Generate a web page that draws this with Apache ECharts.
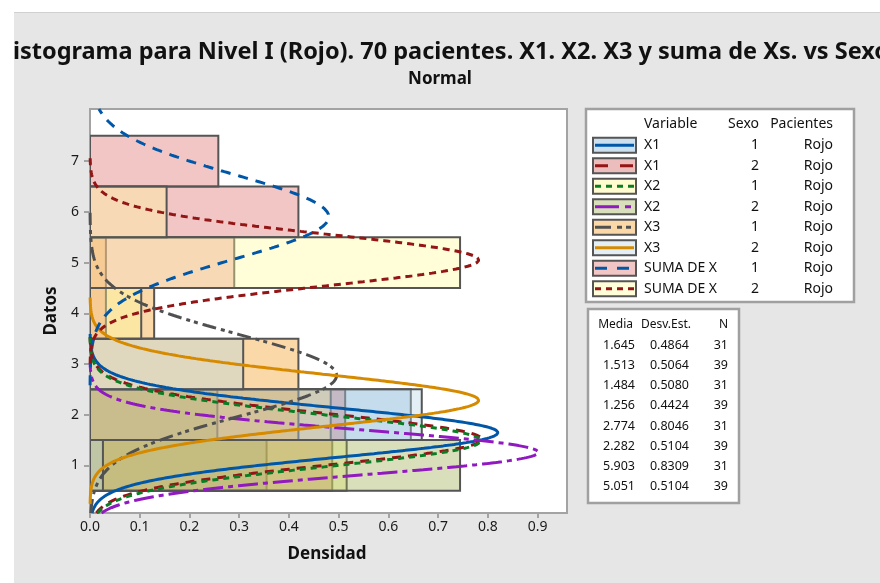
<!DOCTYPE html>
<html><head><meta charset="utf-8">
<script src="https://cdn.jsdelivr.net/npm/echarts@6/dist/echarts.min.js"></script>
<style>
html,body{margin:0;padding:0;background:#fff;width:880px;height:583px;overflow:hidden}
#chart{position:absolute;left:14px;top:12px;width:866px;height:571px;background:#e6e6e6;border-top:1px solid #d0d0d0;box-sizing:border-box}
</style></head><body><div id="chart"></div>
<script>
// ---- data ----
const variables = ['X1','X1','X2','X2','X3','X3','SUMA DE X','SUMA DE X'];
const sexo = [1,2,1,2,1,2,1,2];
const pacientes = ['Rojo','Rojo','Rojo','Rojo','Rojo','Rojo','Rojo','Rojo'];
const media = [1.645,1.513,1.484,1.256,2.774,2.282,5.903,5.051];
const desvEst = [0.4864,0.5064,0.5080,0.4424,0.8046,0.5104,0.8309,0.5104];
const nPac = [31,39,31,39,31,39,31,39];
const mediaTxt = ['1.645','1.513','1.484','1.256','2.774','2.282','5.903','5.051'];
const desvTxt = ['0.4864','0.5064','0.5080','0.4424','0.8046','0.5104','0.8309','0.5104'];
// histogram bins (centres) and densities, per group
const binsX1S1 = [1,2],       densX1S1 = [0.355,0.645];
const binsX1S2 = [1,2],       densX1S2 = [0.487,0.513];
const binsX2S1 = [1,2],       densX2S1 = [0.516,0.484];
const binsX2S2 = [1,2],       densX2S2 = [0.744,0.256];
const binsX3S1 = [2,3,4,5],   densX3S1 = [0.419,0.419,0.129,0.032];
const binsX3S2 = [1,2,3],     densX3S2 = [0.026,0.667,0.308];
const binsSumS1 = [4,5,6,7],  densSumS1 = [0.032,0.290,0.419,0.258];
const binsSumS2 = [4,5,6],    densSumS2 = [0.103,0.744,0.154];
const xTicks = [0,0.1,0.2,0.3,0.4,0.5,0.6,0.7,0.8,0.9];
const yTicks = [1,2,3,4,5,6,7];

// ---- styles ----
const swatch = ['#cde0f0','#ebbdbd','#fffdd0','#d8dfba','#fbd8a8','#e3eff5','#f3c6c6','#fffed9'];
const fills = ['rgba(123,173,215,0.38)','rgba(202,81,81,0.38)','rgba(255,250,131,0.38)','rgba(152,171,73,0.38)',
               'rgba(244,152,26,0.38)','rgba(181,213,229,0.38)','rgba(223,105,105,0.38)','rgba(255,252,155,0.38)'];
const lineColors = ['#0057a8','#931515','#0a7d24','#9019c0','#505050','#d68a00','#0057a8','#931515'];
const lineDash = ['solid',[9,7],[6,5],[20,5,5,5],[14,5,4,4,4,5],'solid',[10,8],[7,5]];
const legendDash = ['solid',[13,12],[6,5],[24,6,6,6],[16,6,5,4,5,4],'solid',[12,10],[6,5]];
const bins = [binsX1S1,binsX1S2,binsX2S1,binsX2S2,binsX3S1,binsX3S2,binsSumS1,binsSumS2];
const dens = [densX1S1,densX1S2,densX2S1,densX2S2,densX3S1,densX3S2,densSumS1,densSumS2];

const yMin = 0.06, yMax = 8.03, xMax = 0.959;
const FONT = '"Noto Sans", "DejaVu Sans", sans-serif';

// fitted normal density over mean +/- 4 sd (clipped to the axis range)
function normalCurve(m, s) {
  const pts = [];
  const lo = Math.max(yMin, m - 4 * s), hi = Math.min(yMax, m + 4 * s);
  for (let i = 0; i <= 600; i++) {
    const y = lo + (hi - lo) * i / 600;
    const z = (y - m) / s;
    pts.push([Math.exp(-0.5 * z * z) / (s * Math.sqrt(2 * Math.PI)), y]);
  }
  return pts;
}

const series = [];
for (let g = 0; g < 8; g++) {
  series.push({
    type: 'custom', z: 2, clip: true,
    data: bins[g].map((b, i) => [b, dens[g][i]]),
    encode: { y: 0, x: 1 },
    renderItem: (params, api) => {
      const y = api.value(0), d = api.value(1);
      const p0 = api.coord([0, y + 0.5]);
      const p1 = api.coord([d, y - 0.5]);
      return { type: 'rect',
        shape: { x: p0[0], y: p0[1], width: p1[0] - p0[0], height: p1[1] - p0[1] },
        style: { fill: fills[g], stroke: '#555555', lineWidth: 2 } };
    }
  });
}
for (let g = 0; g < 8; g++) {
  series.push({
    type: 'line', z: 3, showSymbol: false, clip: true, silent: true,
    data: normalCurve(media[g], desvEst[g]),
    lineStyle: { color: lineColors[g], width: 3, type: lineDash[g] }
  });
}

// ---- graphics: titles, legend tables ----
const OX = 14, OY = 12;
const gfx = [];
function txt(t, x, y, opt) {
  gfx.push({ type: 'text', x: x - OX, y: y - OY, silent: true,
    style: Object.assign({ text: t, fill: '#111', font: '14px ' + FONT, textAlign: 'left', textVerticalAlign: 'middle' }, opt || {}) });
}
txt('Histograma para Nivel I (Rojo). 70 pacientes. X1. X2. X3 y suma de Xs. vs Sexo', 442, 51,
    { font: 'bold 23.5px ' + FONT, textAlign: 'center' });
txt('Normal', 440, 78, { font: 'bold 17px ' + FONT, textAlign: 'center' });
txt('Densidad', 327, 553, { font: 'bold 17px ' + FONT, textAlign: 'center' });
gfx.push({ type: 'text', x: 51 - OX, y: 310 - OY, rotation: Math.PI / 2, silent: true,
  style: { text: 'Datos', fill: '#111', font: 'bold 17px ' + FONT, textAlign: 'center', textVerticalAlign: 'middle' } });

// legend box
gfx.push({ type: 'rect', shape: { x: 586 - OX, y: 108 - OY, width: 268, height: 193 },
  style: { fill: '#fff', stroke: '#a0a0a0', lineWidth: 2.5 } });
txt('Variable', 644, 123);
txt('Sexo', 759, 123, { textAlign: 'right' });
txt('Pacientes', 833, 123, { textAlign: 'right' });
for (let g = 0; g < 8; g++) {
  const ry = 144.3 + g * 20.5;
  gfx.push({ type: 'rect', shape: { x: 593 - OX, y: ry - 7.5 - OY, width: 43, height: 15 },
    style: { fill: swatch[g], stroke: '#555555', lineWidth: 2 } });
  gfx.push({ type: 'line', shape: { x1: 595 - OX, y1: ry - OY, x2: 634 - OX, y2: ry - OY },
    style: { stroke: lineColors[g], lineWidth: 3, lineDash: legendDash[g] === 'solid' ? null : legendDash[g] } });
  txt(variables[g], 644, ry);
  txt(String(sexo[g]), 759, ry, { textAlign: 'right' });
  txt(pacientes[g], 833, ry, { textAlign: 'right' });
}
// stats box
gfx.push({ type: 'rect', shape: { x: 588 - OX, y: 308 - OY, width: 151, height: 194 },
  style: { fill: '#fff', stroke: '#a0a0a0', lineWidth: 2.5 } });
const SF = { font: '12.5px ' + FONT, textAlign: 'right' };
const SH = { font: '12px ' + FONT, textAlign: 'right' };
txt('Media', 633, 324, SH);
txt('Desv.Est.', 691, 324, SH);
txt('N', 728, 324, SH);
for (let g = 0; g < 8; g++) {
  const ry = 344.3 + g * 20.2;
  txt(mediaTxt[g], 635, ry, SF);
  txt(desvTxt[g], 689, ry, SF);
  txt(String(nPac[g]), 728, ry, SF);
}

const chart = echarts.init(document.getElementById('chart'), null, { renderer: 'canvas' });
chart.setOption({
  animation: false,
  backgroundColor: 'transparent',
  grid: { left: 90 - OX, top: 108 - OY, width: 477, height: 404, show: true,
          backgroundColor: '#ffffff', borderColor: '#a3a3a3', borderWidth: 2 },
  xAxis: { type: 'value', min: 0, max: xMax,
    axisLine: { show: false },
    axisTick: { show: true, customValues: xTicks, length: 5, lineStyle: { color: '#a3a3a3', width: 2 } },
    axisLabel: { customValues: xTicks, margin: 7, color: '#1a1a1a', fontSize: 14, fontFamily: FONT,
      formatter: v => v.toFixed(1) },
    splitLine: { show: false } },
  yAxis: { type: 'value', min: yMin, max: yMax,
    axisLine: { show: false },
    axisTick: { show: true, customValues: yTicks, length: 6, lineStyle: { color: '#a3a3a3', width: 2 } },
    axisLabel: { customValues: yTicks, margin: 11, color: '#1a1a1a', fontSize: 14, fontFamily: FONT,
      formatter: v => String(Math.round(v)) },
    splitLine: { show: false } },
  series: series,
  graphic: gfx
});
</script></body></html>
